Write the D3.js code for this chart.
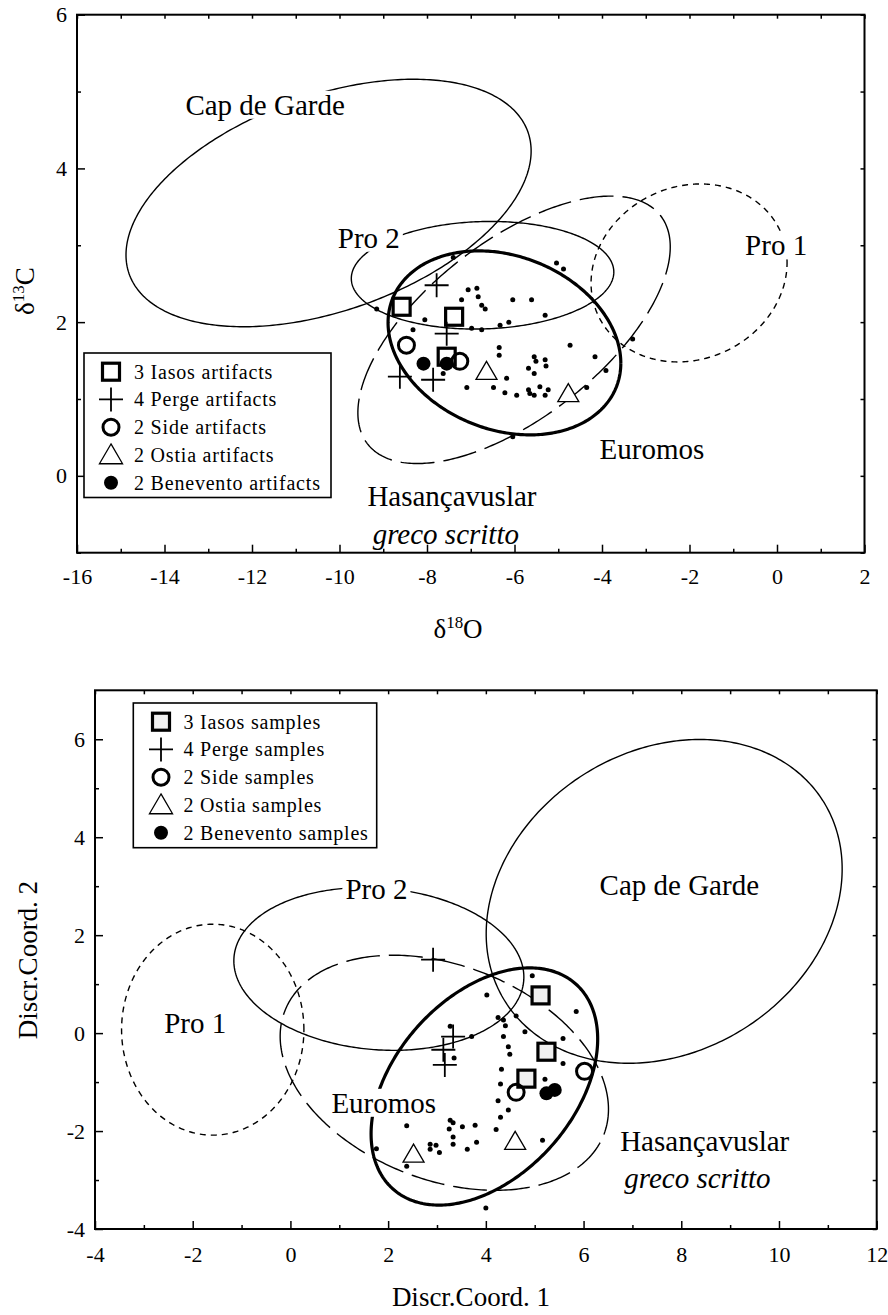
<!DOCTYPE html>
<html><head><meta charset="utf-8">
<script src="https://cdn.jsdelivr.net/npm/d3@7"></script>
<style>
body{margin:0;background:#fff}
text{font-family:"Liberation Serif","Times New Roman",serif;fill:#000}
</style>
</head><body>
<svg id="c" width="888" height="1315"></svg>
<script>
// ================= DATA: top panel (δ18O vs δ13C) =================
const topXTicks = [-16,-14,-12,-10,-8,-6,-4,-2,0,2];
const topXMinor = [-15,-13,-11,-9,-7,-5,-3,-1,1];
const topYTicks = [0,2,4,6];
const topYMinor = [-1,1,3,5];
// name, cx, cy, semi-extent x, semi-extent y, correlation, line style
const topEllipses = [
  ["Cap de Garde", -10.25, 3.55, 4.63, 1.61, 0.42, "thin"],
  ["Pro 2", -6.73, 2.61, 3.00, 0.70, 0.06, "thin"],
  ["Euromos", -6.23, 1.73, 2.66, 1.197, -0.22, "thick"],
  ["Hasançavuslar", -6.01, 1.90, 3.57, 1.74, 0.62, "long"],
  ["Pro 1", -2.01, 2.64, 2.24, 1.158, 0.115, "short"]
];
const topDots = [[-9.15,2.17],[-7.40,2.84],[-5.04,2.77],[-4.88,2.69],[-7.06,2.42],[-6.86,2.44],
  [-6.83,2.33],[-6.75,2.22],[-6.67,2.17],[-7.21,2.29],[-6.04,2.29],[-5.61,2.29],[-5.30,2.09],
  [-6.33,1.96],[-6.13,2.00],[-6.98,1.92],[-6.75,1.90],[-8.32,1.90],[-8.05,2.03],[-6.35,1.67],
  [-6.35,1.57],[-4.73,1.70],[-4.16,1.55],[-3.91,1.37],[-3.30,1.78],[-5.55,1.55],[-5.51,1.49],
  [-5.30,1.51],[-5.28,1.43],[-5.68,1.40],[-5.55,1.33],[-6.18,1.27],[-6.48,1.15],[-7.09,1.15],
  [-6.22,1.08],[-5.95,1.05],[-5.68,1.12],[-5.65,1.07],[-5.55,1.05],[-5.42,1.16],[-5.23,1.12],
  [-5.30,1.05],[-4.35,1.15],[-6.04,0.51],[-7.63,1.33]];
const topIasos = [[-8.58,2.20],[-7.38,2.07],[-7.55,1.55]];
const topPerge = [[-7.78,2.48],[-7.55,1.85],[-8.62,1.29],[-7.86,1.25]];
const topSide = [[-8.47,1.70],[-7.25,1.49]];
const topOstia = [[-6.64,1.36],[-4.77,1.07]];
const topBenevento = [[-8.08,1.46],[-7.55,1.46]];
// text, x, y, italic
const topLabels = [["Cap de Garde",-11.70,4.83,false],["Pro 2",-9.33,3.10,false],
  ["Pro 1",-0.02,3.00,false],["Euromos",-2.86,0.35,false],
  ["Hasançavuslar",-7.43,-0.26,false],["greco scritto",-7.57,-0.76,true]];
const topLegend = ["3 Iasos artifacts","4 Perge artifacts","2 Side artifacts","2 Ostia artifacts","2 Benevento artifacts"];

// ================= DATA: bottom panel (discriminant coordinates) =================
const botXTicks = [-4,-2,0,2,4,6,8,10,12];
const botXMinor = [-3,-1,1,3,5,7,9,11];
const botYTicks = [-4,-2,0,2,4,6];
const botYMinor = [-3,-1,1,3,5];
const botEllipses = [
  ["Cap de Garde", 7.65, 2.69, 3.643, 3.306, 0.20, "thin"],
  ["Pro 2", 1.81, 1.31, 2.968, 1.662, -0.10, "thin"],
  ["Pro 1", -1.59, 0.07, 1.866, 2.154, 0.0, "short"],
  ["Euromos", 3.97, -1.09, 2.319, 2.422, 0.40, "thick"],
  ["Hasançavuslar", 3.15, -0.81, 3.36, 2.40, -0.31, "long"]
];
const botDots = [[4.95,1.17],[4.02,0.78],[5.85,0.44],[4.25,0.32],[4.36,0.27],[4.62,0.35],[4.40,0.15],
  [4.80,0.03],[3.71,-0.07],[4.36,-0.07],[4.46,-0.28],[4.49,-0.43],[5.58,-0.11],[5.58,-0.62],
  [3.35,-0.51],[3.27,0.14],[4.32,-0.74],[4.30,-1.04],[5.21,-0.94],[4.25,-1.38],[4.46,-1.57],
  [4.30,-1.72],[4.21,-1.97],[3.27,-1.78],[3.33,-1.83],[3.52,-1.91],[3.78,-1.88],[3.25,-1.96],
  [3.33,-2.12],[3.33,-2.27],[3.81,-2.23],[3.62,-2.37],[2.86,-2.27],[2.98,-2.29],[2.86,-2.37],
  [3.05,-2.44],[2.38,-1.89],[1.76,-2.36],[2.38,-2.72],[4.00,-3.57],[5.16,-2.19]];
const botIasos = [[5.12,0.77],[5.24,-0.38],[4.83,-0.93]];
const botPerge = [[2.92,1.50],[3.33,-0.07],[3.13,-0.34],[3.16,-0.65]];
const botSide = [[6.02,-0.78],[4.62,-1.21]];
const botOstia = [[2.52,-2.47],[4.60,-2.21]];
const botBenevento = [[5.24,-1.23],[5.41,-1.16]];
const botLabels = [["Pro 2",1.76,2.95,false],["Pro 1",-1.95,0.20,false],
  ["Cap de Garde",7.96,3.03,false],["Euromos",1.91,-1.42,false],
  ["Hasançavuslar",8.48,-2.19,false],["greco scritto",8.33,-2.95,true]];
const botLegend = ["3 Iasos samples","4 Perge samples","2 Side samples","2 Ostia samples","2 Benevento samples"];

// ================= DRAWING =================
const svg = d3.select("#c");
const FONT = '"Liberation Serif","Times New Roman",serif';

function symbol(g, type, px, py, sqFill, big) {
  const s = big ? 1.1 : 1;
  if (type === "square") {
    g.append("rect").attr("x", px-8.5).attr("y", py-8.5).attr("width",17).attr("height",17)
      .attr("fill", sqFill).attr("stroke","#000").attr("stroke-width",3.2);
  } else if (type === "plus") {
    g.append("path").attr("d", `M${px-12},${py}H${px+12}M${px},${py-12}V${py+12}`)
      .attr("stroke","#000").attr("stroke-width",1.8).attr("fill","none");
  } else if (type === "circle") {
    g.append("circle").attr("cx",px).attr("cy",py).attr("r",8)
      .attr("fill","none").attr("stroke","#000").attr("stroke-width",3);
  } else if (type === "triangle") {
    g.append("path").attr("d", `M${px},${py-10*s}L${px+10.5*s},${py+8*s}L${px-10.5*s},${py+8*s}Z`)
      .attr("fill","#fff").attr("stroke","#000").attr("stroke-width",1.3);
  } else if (type === "filled") {
    g.append("circle").attr("cx",px).attr("cy",py).attr("r",7).attr("fill","#000");
  }
}

function panel(cfg) {
  const g = svg.append("g");
  const x = d3.scaleLinear().domain(cfg.xd).range(cfg.xr);
  const y = d3.scaleLinear().domain(cfg.yd).range(cfg.yr);
  const [L,R] = cfg.xr, [B,T] = cfg.yr;

  const line = d3.line().x(d=>x(d[0])).y(d=>y(d[1]));
  cfg.ellipses.forEach(e => {
    const [, cx, cy, sx, sy, rho, st] = e;
    const k = Math.sqrt(1 - rho*rho);
    const pts = d3.range(0, 361, 1).map(i => {
      const t = i*Math.PI/180;
      return [cx + sx*Math.cos(t), cy + rho*sy*Math.cos(t) + k*sy*Math.sin(t)];
    });
    const p = g.append("path").attr("d", line(pts)).attr("fill","none").attr("stroke","#000")
      .attr("stroke-width", st === "thick" ? 3.2 : 1.4);
    if (st === "long") p.attr("stroke-dasharray","34,9");
    if (st === "short") p.attr("stroke-dasharray","6,5");
  });

  cfg.labels.forEach(l => {
    const t = g.append("text").attr("x", x(l[1])).attr("y", y(l[2])).attr("dy","0.35em")
      .attr("text-anchor","middle").attr("font-size",29).attr("font-family",FONT)
      .attr("font-style", l[3] ? "italic" : "normal").text(l[0]);
    const bb = t.node().getBBox();
    g.insert("rect", () => t.node()).attr("x",bb.x-3).attr("y",bb.y+2).attr("width",bb.width+6)
      .attr("height",bb.height-4).attr("fill","#fff");
  });

  g.selectAll(null).data(cfg.dots).join("circle")
    .attr("cx", d=>x(d[0])).attr("cy", d=>y(d[1])).attr("r",2.5).attr("fill","#000");

  cfg.series.forEach(s => s.data.forEach(d => symbol(g, s.type, x(d[0]), y(d[1]), cfg.sqFill)));

  const fmt = d => String(d);
  const styleAxis = a => { a.select(".domain").remove();
    a.selectAll("line").attr("stroke-width",1.5);
    a.selectAll("text").attr("font-size",22).attr("font-family",FONT); };
  g.append("g").attr("transform",`translate(0,${B})`)
    .call(d3.axisBottom(x).tickValues(cfg.xt).tickFormat(fmt).tickSize(-8).tickPadding(cfg.xpad)).call(styleAxis);
  g.append("g").attr("transform",`translate(0,${B})`)
    .call(d3.axisBottom(x).tickValues(cfg.xm).tickFormat("").tickSize(-4)).call(styleAxis);
  g.append("g").attr("transform",`translate(${L},0)`)
    .call(d3.axisLeft(y).tickValues(cfg.yt).tickFormat(fmt).tickSize(-8).tickPadding(10)).call(styleAxis);
  g.append("g").attr("transform",`translate(${L},0)`)
    .call(d3.axisLeft(y).tickValues(cfg.ym).tickFormat("").tickSize(-4)).call(styleAxis);
  g.append("g").attr("transform",`translate(0,${T})`)
    .call(d3.axisTop(x).tickValues(cfg.xt.concat(cfg.xm)).tickFormat("").tickSize(-4)).call(styleAxis);
  g.append("g").attr("transform",`translate(${R},0)`)
    .call(d3.axisRight(y).tickValues(cfg.yt.concat(cfg.ym)).tickFormat("").tickSize(-4)).call(styleAxis);
  g.append("rect").attr("x",L).attr("y",T).attr("width",R-L).attr("height",B-T)
    .attr("fill","none").attr("stroke","#000").attr("stroke-width",2);

  const lg = cfg.legend;
  g.append("rect").attr("x",lg.x0).attr("y",lg.y0).attr("width",lg.x1-lg.x0).attr("height",lg.y1-lg.y0)
    .attr("fill","#fff").attr("stroke","#000").attr("stroke-width",1.6);
  cfg.series.forEach((s,i) => {
    const yy = lg.first + i*27.75;
    symbol(g, s.type, lg.sx, yy, cfg.sqFill, true);
    g.append("text").attr("x",lg.tx).attr("y",yy).attr("dy","0.35em").attr("font-size",20)
      .attr("letter-spacing","0.8px").attr("font-family",FONT).text(cfg.legendText[i]);
  });
  return {x, y};
}

panel({
  xd:[-16,2], xr:[77,864.5], yd:[-1,6], yr:[552.7,14.7],
  xt:topXTicks, xm:topXMinor, yt:topYTicks, ym:topYMinor, xpad:16,
  ellipses:topEllipses, labels:topLabels, dots:topDots, sqFill:"#fff",
  series:[{type:"square",data:topIasos},{type:"plus",data:topPerge},{type:"circle",data:topSide},
          {type:"triangle",data:topOstia},{type:"filled",data:topBenevento}],
  legend:{x0:84,y0:353,x1:331,y1:497.5,first:371.7,sx:111,tx:134},
  legendText: topLegend
});

panel({
  xd:[-4,12], xr:[95,876.7], yd:[-4,7], yr:[1229,690.3],
  xt:botXTicks, xm:botXMinor, yt:botYTicks, ym:botYMinor, xpad:17,
  ellipses:botEllipses, labels:botLabels, dots:botDots, sqFill:"#f0f0f0",
  series:[{type:"square",data:botIasos},{type:"plus",data:botPerge},{type:"circle",data:botSide},
          {type:"triangle",data:botOstia},{type:"filled",data:botBenevento}],
  legend:{x0:133.3,y0:703,x1:376.7,y1:847.7,first:721.7,sx:161,tx:183.5},
  legendText: botLegend
});

function title(xp, yp, rot, parts) {
  const t = svg.append("text").attr("text-anchor","middle").attr("font-size",27).attr("font-family",FONT)
    .attr("transform", `translate(${xp},${yp}) rotate(${rot})`);
  parts.forEach(p => {
    const ts = t.append("tspan").text(p[0]);
    if (p[1] === "sup") ts.attr("font-size",17).attr("dy",-10);
    if (p[1] === "down") ts.attr("dy",10);
  });
}
title(458, 638, 0, [["δ"],["18","sup"],["O","down"]]);
title(34, 291, -90, [["δ"],["13","sup"],["C","down"]]);
title(471, 1306, 0, [["Discr.Coord. 1"]]);
title(37, 960, -90, [["Discr.Coord. 2"]]);
</script>
</body></html>
